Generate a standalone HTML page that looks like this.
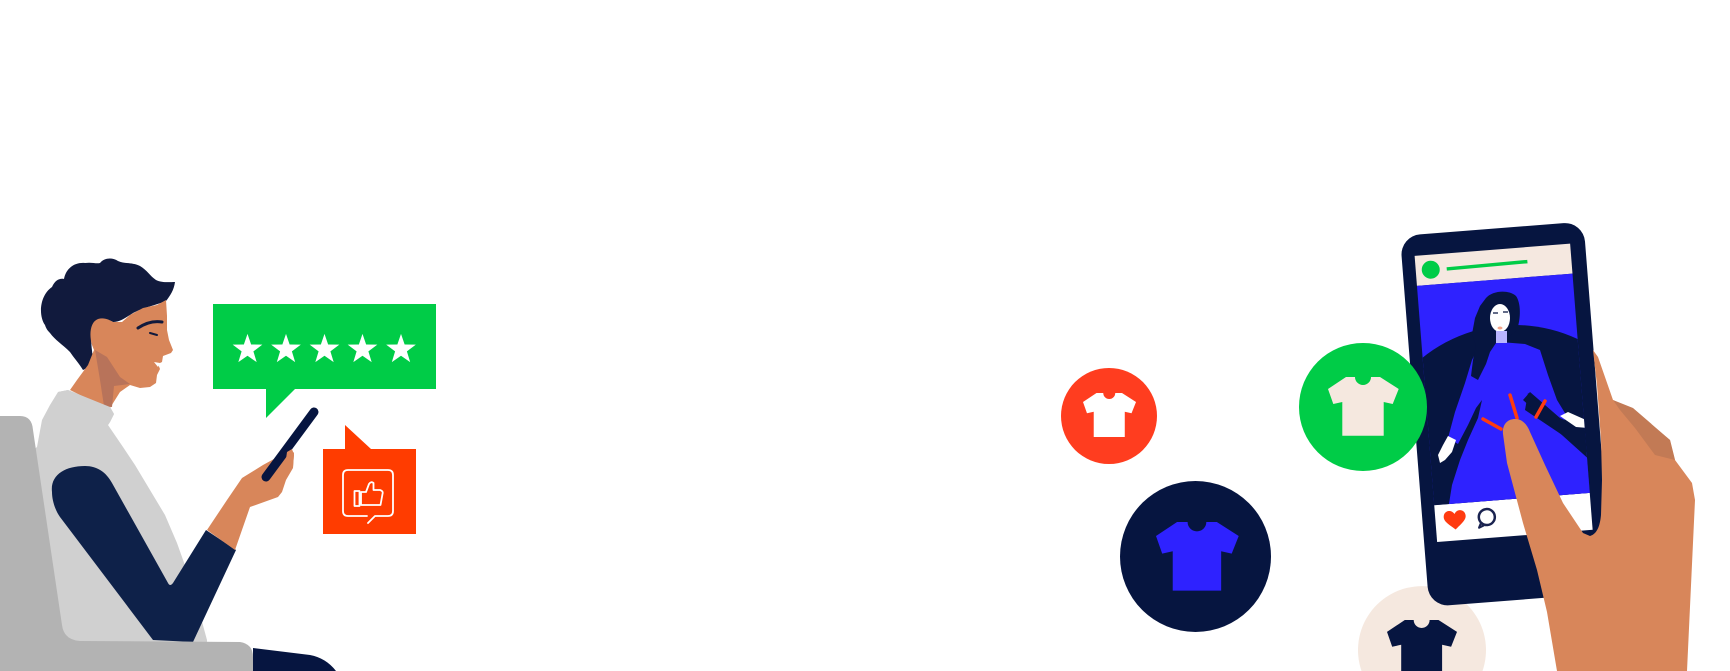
<!DOCTYPE html>
<html><head><meta charset="utf-8"><style>
html,body{margin:0;padding:0;background:#fff;width:1730px;height:671px;overflow:hidden;}
svg{display:block;}
</style></head><body>
<svg width="1730" height="671" viewBox="0 0 1730 671" xmlns="http://www.w3.org/2000/svg">
<defs>
<path id="shirt" d="M18,0 L27,0 A8,8 0 0 0 43,0 L52,0 L70.7,12 L64.7,27 L55.7,25 L55.7,58.7 L14.3,58.7 L14.3,25 L5.3,27 L0,12 Z"/>
<polygon id="star" points="0,-15.6 3.64,-5.02 14.84,-4.82 5.9,1.92 9.17,12.62 0,6.2 -9.17,12.62 -5.9,1.92 -14.84,-4.82 -3.64,-5.02"/>
<clipPath id="scr"><polygon points="1417,286 1572.5,273.6 1589.8,492.9 1434.2,505.2"/></clipPath>
</defs>

<!-- ===== LEFT: person ===== -->
<path d="M58,392 L68,390 L110,407 L114,414 L110,422 L108,425 L123,447 L135,465 L150,490 L165,515 L177,543 L192,585 L207,640 L207,660 L20,660 L20,460 L37,447 L42,420 L50,405 Z" fill="#d0d0d0"/>
<!-- hair -->
<path d="M45,325 C38,315 40,295 52,287 C55,280 60,278 64,279 C66,268 75,262 85,263 C92,262 96,264 100,263 C104,258 112,257 118,261 C124,264 132,262 140,266 C147,270 150,276 156,280 C162,283 170,282 175,282 C174,290 170,296 166,301 C157,305 140,308 130,315 C125,318 120,322 113,322 C105,318 97,318 93,325 C90,332 91,345 93,358 C90,365 86,369 83,370 C78,362 74,358 70,352 C62,344 55,340 50,333 C47,330 46,328 45,325 Z" fill="#111a3d"/>
<!-- face / neck skin -->
<path d="M166,300 L167,316 L167,330 L169,340 L173,350 L171,353 L163,356 L162,362 L158,364 L160,369 L157,375 L156,383 L150,387 L140,388 L130,385 L120,392 L110,408 L100,405 L80,395 L70,390 L77,380 L88,365 L94,350 L92,345 C89,335 90,322 98,319 C104,317 110,320 113,322 L122,322 L130,315 L143,308 L157,305 Z" fill="#d8865a"/>
<path d="M95,350 L107,357 L120,377 L130,384 L114,386 L112,407 L104,406 L100,380 Z" fill="#b8735a"/>
<path d="M138,328 Q150,320 162,322" stroke="#111a3d" stroke-width="3" fill="none" stroke-linecap="round"/>
<path d="M150,333 L157,335" stroke="#111a3d" stroke-width="2" fill="none" stroke-linecap="round"/>
<path d="M154,362 L160,363 L158,367 Z" fill="#fff"/>
<path d="M58,392 L68,390 L110,407 L114,414 L110,422 L108,425 L90,415 L60,405 Z" fill="#d0d0d0"/>
<!-- sleeve -->
<path d="M52,492 C50,475 65,466 85,466 C97,466 106,472 112,483 L168,583 Q170,587 173,583 L206,530 L236,550 L193,642 L153,640 L60,517 C55,510 52,500 52,492 Z" fill="#0e2149"/>
<!-- forearm & hand -->
<path d="M207,530 L227,500 L242,478 L263,465 L283,454 L290,448 L294,453 L293,468 L286,480 L282,492 L278,497 L250,507 L235,550 Z" fill="#d8865a"/>
<line x1="314" y1="412" x2="266" y2="477" stroke="#061540" stroke-width="9" stroke-linecap="round"/>
<path d="M287,452 L292,449 L294,455 L293,467 L288,474 L285,466 Z" fill="#d8865a"/>
<!-- chair -->
<path d="M0,416 L20,416 Q32,416 33,430 L62,625 Q64,640 80,641 L240,642 Q253,644 253,657 L253,671 L0,671 Z" fill="#b3b3b3"/>
<path d="M253,648 L310,655 Q326,658 336,671 L253,671 Z" fill="#061540"/>

<!-- green rating bubble -->
<path d="M213,304 L436,304 L436,389 L295,389 L266,418 L266,389 L213,389 Z" fill="#00cc47"/>
<g fill="#fff">
<use href="#star" transform="translate(247.5,349.5)"/>
<use href="#star" transform="translate(286,349.5)"/>
<use href="#star" transform="translate(324.5,349.5)"/>
<use href="#star" transform="translate(362.5,349.5)"/>
<use href="#star" transform="translate(401,349.5)"/>
</g>

<!-- red thumbs bubble -->
<path d="M323,449 L345,449 L345,425 L371,449 L416,449 L416,534 L323,534 Z" fill="#ff3c00"/>
<g fill="none" stroke="#fff" stroke-width="1.8" stroke-linejoin="round" stroke-linecap="round">
<path d="M367,516 L348,516 Q343,516 343,511 L343,475 Q343,470 348,470 L388,470 Q393,470 393,475 L393,511 Q393,516 388,516 L375,516 L368,523"/>
<rect x="354.5" y="491" width="5" height="15"/>
<path d="M361,492 L366,492 L369,484 Q371,481 373.5,483 L373.5,490 L380,490 Q383.5,491 382.5,494 L380.5,505 L361,505 Z"/>
</g>

<!-- ===== RIGHT: circles ===== -->
<circle cx="1109" cy="416" r="48" fill="#ff3d1f"/>
<use href="#shirt" transform="translate(1083,393) scale(0.75)" fill="#fff"/>
<circle cx="1195.5" cy="556.5" r="75.5" fill="#061540"/>
<use href="#shirt" transform="translate(1156,522) scale(1.17)" fill="#2e22ff"/>
<path d="M1361.5,671 A64,64 0 1 1 1482.5,671 Z" fill="#f5e8df"/>
<path d="M1404.8,620 L1413.7,620 A7.9,7.9 0 0 0 1429.6,620 L1438.5,620 L1457,631.9 L1451.1,646.7 L1442.1,644.8 L1442.1,671 L1401.2,671 L1401.2,644.8 L1392.2,646.7 L1387,631.9 Z" fill="#061540"/>

<!-- phone -->
<g transform="translate(1400,236) rotate(-4.5)">
<rect x="0" y="0" width="184" height="372" rx="20" fill="#061540"/>
<rect x="13" y="21" width="156" height="30" fill="#f5e8e0"/>
<rect x="13" y="51" width="156" height="220" fill="#2e22ff"/>
<rect x="13" y="271" width="156" height="37" fill="#fff"/>
<circle cx="28" cy="36" r="9" fill="#00cc47"/>
<line x1="44" y1="36.5" x2="125" y2="35.5" stroke="#00cc47" stroke-width="3.5"/>
<path transform="translate(32.5,288)" d="M0,9 C-4,5 -11,1 -11,-4 C-11,-8 -8,-10 -5.5,-10 C-3,-10 -1,-8.5 0,-6.5 C1,-8.5 3,-10 5.5,-10 C8,-10 11,-8 11,-4 C11,1 4,5 0,9 Z" fill="#ff3b10"/>
<circle cx="64.5" cy="287" r="8" fill="none" stroke="#1a2350" stroke-width="2.5"/>
<path d="M58,293 L56,297 L61,295" fill="none" stroke="#1a2350" stroke-width="2.2" stroke-linejoin="round"/>
</g>

<!-- screen illustration -->
<g clip-path="url(#scr)">
<circle cx="1515" cy="472" r="147" fill="#061540"/>
<path d="M1478,348 L1500,342 L1525,344 L1540,350 L1548,375 L1557,400 L1568,418 L1560,422 L1540,405 L1528,393 L1525,410 L1592,455 L1594,510 L1448,510 L1452,485 L1460,460 L1468,440 L1478,418 L1482,400 L1476,408 L1468,425 L1458,444 L1448,438 L1455,412 L1465,383 L1472,360 Z" fill="#2e22ff"/>
<path d="M1523,400 L1530,392 L1560,418 L1592,432 L1592,462 Z" fill="#061540"/>
<path d="M1448,436 L1456,440 L1452,452 L1445,460 L1440,463 L1438,455 L1443,445 Z" fill="#fff"/>
<path d="M1560,416 L1568,412 L1586,420 L1588,428 L1576,427 Z" fill="#fff"/>
<!-- hair -->
<path d="M1486,298 C1492,291 1508,289 1516,296 C1521,303 1521,318 1517,330 L1510,336 L1498,340 L1490,352 L1486,364 L1478,380 L1471,376 L1473,360 L1476,346 L1472,334 L1475,318 L1480,306 Z" fill="#061540"/>
<ellipse cx="1500" cy="318" rx="10" ry="14" fill="#fff"/>
<rect x="1496" y="331" width="11" height="12" fill="#b9b5ff"/>
<ellipse cx="1500" cy="328" rx="2.5" ry="1.5" fill="#f4a58a"/>
<path d="M1493,313 L1498,313 M1503,312 L1508,312" stroke="#061540" stroke-width="1.2"/>
<line x1="1510" y1="395" x2="1517" y2="418" stroke="#ff3b10" stroke-width="3.5" stroke-linecap="round"/>
<line x1="1483" y1="419" x2="1501" y2="429" stroke="#ff3b10" stroke-width="3.5" stroke-linecap="round"/>
<line x1="1545" y1="401" x2="1536" y2="417" stroke="#ff3b10" stroke-width="3.5" stroke-linecap="round"/>
</g>

<!-- green circle over phone -->
<circle cx="1363" cy="407" r="64" fill="#00cc47"/>
<use href="#shirt" transform="translate(1328,377)" fill="#f5e8df"/>

<!-- hand -->
<path d="M1503,434 C1502,424 1508,419 1515,419 C1522,419 1527,424 1530,432 L1545,465 L1563,503 L1583,533 L1590,536 C1597,534 1600,526 1601,515 L1602,480 L1601,440 L1597,385 L1593,350 L1598,357 L1613,400 L1633,410 L1670,440 L1675,460 L1692,483 L1695,500 L1687,671 L1557,671 L1547,612 L1537,570 L1523,523 L1507,463 Z" fill="#d8865a"/>
<path d="M1613,400 L1633,408 L1670,440 L1675,460 L1655,455 L1635,428 L1620,410 Z" fill="#c27a55"/>
</svg>
</body></html>
